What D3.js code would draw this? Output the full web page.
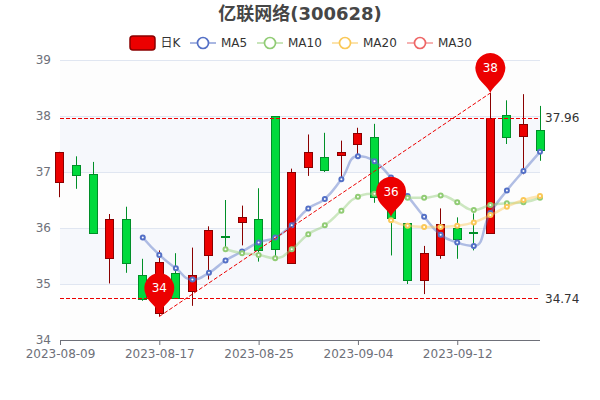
<!DOCTYPE html>
<html><head><meta charset="utf-8">
<script src="https://cdn.jsdelivr.net/npm/d3@7/dist/d3.min.js"></script>
<style>html,body{margin:0;padding:0;background:#fff}svg{display:block}text{font-family:"DejaVu Sans","Noto Sans CJK SC",sans-serif}</style>
</head><body><svg id="c" width="600" height="400"></svg>
<script>
const dates=["2023-08-09","2023-08-10","2023-08-11","2023-08-14","2023-08-15","2023-08-16","2023-08-17","2023-08-18","2023-08-21","2023-08-22","2023-08-23","2023-08-24","2023-08-25","2023-08-28","2023-08-29","2023-08-30","2023-08-31","2023-09-01","2023-09-04","2023-09-05","2023-09-06","2023-09-07","2023-09-08","2023-09-11","2023-09-12","2023-09-13","2023-09-14","2023-09-15","2023-09-18","2023-09-19"];
const tickDates=["2023-08-09","2023-08-17","2023-08-25","2023-09-04","2023-09-12"];
const opens =[36.80,37.12,36.96,35.46,36.16,35.16,34.48,35.19,34.88,35.50,35.85,36.10,36.16,37.99,35.37,37.08,37.26,37.29,37.48,37.62,36.55,36.08,35.06,35.50,36.00,35.92,35.91,38.00,37.63,37.75];
const closes=[37.34,36.94,35.90,36.15,35.38,34.74,35.39,34.74,35.16,35.95,35.83,36.19,35.60,35.62,37.00,37.35,37.02,37.34,37.68,36.55,36.18,35.06,35.54,36.06,35.81,35.90,37.96,37.60,37.85,37.39];
const lows  =[36.55,36.70,35.90,35.01,35.20,34.70,34.42,34.74,34.61,35.08,35.60,35.69,35.40,35.47,35.37,36.93,37.00,36.87,37.28,36.45,35.51,35.00,34.82,35.45,35.45,35.60,35.91,37.50,36.96,37.20];
const highs =[37.36,37.28,37.18,36.25,36.38,35.45,35.60,35.55,35.65,36.03,36.50,36.40,36.71,37.99,37.06,37.67,37.70,37.56,37.79,37.86,36.80,36.08,35.68,36.35,36.19,36.26,38.41,38.28,38.39,38.18];
const ma5 =[null,null,null,null,null,35.83,35.52,35.28,35.08,35.20,35.42,35.58,35.74,35.83,36.05,36.35,36.52,36.87,37.28,37.19,36.90,36.57,36.20,35.88,35.74,35.68,36.27,36.67,37.02,37.36];
const ma10=[null,null,null,null,null,null,null,null,null,null,35.62,35.55,35.52,35.46,35.62,35.89,36.05,36.31,36.56,36.61,36.60,36.54,36.54,36.58,36.46,36.32,36.41,36.44,36.46,36.54];
const ma20=[null,null,null,null,null,null,null,null,null,null,null,null,null,null,null,null,null,null,null,null,36.14,36.04,36.02,36.02,36.04,36.10,36.23,36.38,36.50,36.57];
const ma30=dates.map(()=>null);
const yTicks=[34,35,36,37,38,39];
const hLines=[37.96,34.74];
const pinDates=["2023-08-17","2023-09-06","2023-09-14"];
const pinValues=[34.48,36.20,38.41];
const pinLabels=["34","36","38"];
const diagonal=[["2023-08-17",34.42],["2023-09-14",38.41]];
const maNames=["MA5","MA10","MA20","MA30"];
const maColors=["#5470C6","#91CC75","#FAC858","#EE6666"];
const maSeries=[ma5,ma10,ma20,ma30];
const legendLeft=[190,257,332,407];

const svg=d3.select("#c");
const x=d3.scalePoint().domain(dates).range([60,540]);
const y=d3.scaleLinear().domain([34,39]).range([340,60]);
const sp=v=>Math.floor(v)+0.5;

// split areas
const bands=d3.pairs(yTicks);
svg.append("g").selectAll("rect").data(bands).join("rect")
  .attr("x",60).attr("width",480).attr("y",d=>y(d[1])).attr("height",d=>y(d[0])-y(d[1]))
  .attr("fill",(d,i)=>i%2?"rgba(210,219,238,0.2)":"rgba(250,250,250,0.3)");
// y grid + labels
const gy=svg.append("g").attr("transform","translate(60,0)")
  .call(d3.axisLeft(y).tickValues(yTicks).tickSize(-480).tickPadding(9).tickFormat(d3.format("d")));
gy.attr("font-family",null);
gy.select(".domain").remove();
gy.selectAll("line").attr("stroke","#E0E6F1").attr("shape-rendering","crispEdges");
gy.selectAll("text").attr("fill","#6E7079").attr("font-size",12).attr("font-family",null);
// x axis
const gx=svg.append("g").attr("transform","translate(0,340)")
  .call(d3.axisBottom(x).tickValues(tickDates).tickSize(5).tickPadding(4.5));
gx.attr("font-family",null);
gx.select(".domain").attr("stroke","#6E7079").attr("d","M60,0.5H540");
gx.selectAll("line").attr("stroke","#6E7079");
gx.selectAll("text").attr("fill","#6E7079").attr("font-size",12).attr("font-family",null);

// candles
const candles=svg.append("g").selectAll("g").data(dates.map((d,i)=>({d,o:opens[i],c:closes[i],l:lows[i],h:highs[i]}))).join("g");
const isUp=d=>d.c>=d.o;
candles.append("line").attr("x1",d=>sp(x(d.d))).attr("x2",d=>sp(x(d.d)))
  .attr("y1",d=>y(d.h)).attr("y2",d=>y(d.l))
  .attr("stroke",d=>isUp(d)?"#8A0000":"#008F28").attr("stroke-width",1);
candles.append("rect").attr("x",d=>sp(x(d.d)-4)).attr("width",8)
  .attr("y",d=>sp(y(Math.max(d.o,d.c)))).attr("height",d=>Math.max(1,Math.round(Math.abs(y(d.o)-y(d.c)))))
  .attr("fill",d=>isUp(d)?"#ec0000":"#00da3c")
  .attr("stroke",d=>isUp(d)?"#8A0000":"#008F28").attr("stroke-width",1);

// MA lines: smoothing with control points clamped between neighbouring points
function smoothPath(p){
  const s=0.5,path=d3.path();
  let cx0=p[0][0],cy0=p[0][1];
  path.moveTo(cx0,cy0);
  for(let i=1;i<p.length;i++){
    const [px,py]=p[i-1],[cx,cy]=p[i];
    let c1x=cx,c1y=cy,nx0=cx,ny0=cy;
    if(i<p.length-1){
      const [nx,ny]=p[i+1];
      const lp=Math.hypot(cx-px,cy-py),ln=Math.hypot(nx-cx,ny-cy),r=ln/(ln+lp);
      const vx=nx-px,vy=ny-py;
      nx0=cx+vx*s*r;ny0=cy+vy*s*r;
      nx0=Math.max(Math.min(nx0,Math.max(nx,cx)),Math.min(nx,cx));
      ny0=Math.max(Math.min(ny0,Math.max(ny,cy)),Math.min(ny,cy));
      c1x=cx-(nx0-cx)*lp/ln;c1y=cy-(ny0-cy)*lp/ln;
      c1x=Math.max(Math.min(c1x,Math.max(px,cx)),Math.min(px,cx));
      c1y=Math.max(Math.min(c1y,Math.max(py,cy)),Math.min(py,cy));
      nx0=cx+(cx-c1x)*ln/lp;ny0=cy+(cy-c1y)*ln/lp;
    }
    path.bezierCurveTo(cx0,cy0,c1x,c1y,cx,cy);
    cx0=nx0;cy0=ny0;
  }
  return path.toString();
}
maSeries.forEach((s,k)=>{
  const pts=dates.map((d,i)=>({d,v:s[i]})).filter(p=>p.v!==null);
  if(!pts.length)return;
  const g=svg.append("g");
  g.append("path").attr("d",smoothPath(pts.map(p=>[x(p.d),y(p.v)]))).attr("fill","none").attr("stroke",maColors[k]).attr("stroke-width",2.5).attr("stroke-opacity",0.45);
  g.selectAll("circle").data(pts).join("circle").attr("cx",d=>x(d.d)).attr("cy",d=>y(d.v)).attr("r",2)
    .attr("fill","#fff").attr("stroke",maColors[k]).attr("stroke-width",2);
});

// mark lines
const ml=svg.append("g");
ml.selectAll("line.h").data(hLines).join("line").attr("class","h")
  .attr("x1",60).attr("x2",540).attr("y1",d=>sp(y(d))).attr("y2",d=>sp(y(d)))
  .attr("stroke","#ec0000").attr("stroke-width",1).attr("stroke-dasharray","4,2");
ml.selectAll("text").data(hLines).join("text").attr("x",545).attr("y",d=>y(d)).attr("dy","0.35em")
  .attr("font-size",12).attr("fill","#333").text(d=>d.toFixed(2));
ml.append("line").attr("x1",x(diagonal[0][0])).attr("y1",y(diagonal[0][1]))
  .attr("x2",x(diagonal[1][0])).attr("y2",y(diagonal[1][1]))
  .attr("stroke","#ec0000").attr("stroke-width",1).attr("stroke-dasharray","4,2");

// pins
function pinPath(cx,tip){
  const r=15,cy=tip-25,p=d3.path(),a=0.45;
  const dx=r*Math.cos(a),dy=r*Math.sin(a);
  p.moveTo(cx,tip);
  p.bezierCurveTo(cx-2,tip-6,cx-dx+2,cy+dy+7,cx-dx,cy+dy);
  p.arc(cx,cy,r,Math.PI-a,a);
  p.bezierCurveTo(cx+dx-2,cy+dy+7,cx+2,tip-6,cx,tip);
  p.closePath();
  return p.toString();
}
pinDates.forEach((d,i)=>{
  const tip=y(pinValues[i]);
  svg.append("path").attr("d",pinPath(x(d),tip)).attr("fill","#ec0000");
  svg.append("text").attr("x",x(d)).attr("y",tip-25).attr("dy","0.35em").attr("text-anchor","middle")
    .attr("font-size",12).attr("fill","#fff").text(pinLabels[i]);
});

// title
svg.append("text").attr("x",300).attr("y",14).attr("dy","0.35em").attr("text-anchor","middle")
  .attr("font-size",18).attr("font-weight","bold").attr("fill","#464646").text("亿联网络(300628)");

// legend
const lg=svg.append("g");
lg.append("rect").attr("x",130).attr("y",36).attr("width",25).attr("height",14).attr("rx",3)
  .attr("fill","#ec0000").attr("stroke","#8A0000").attr("stroke-width",1.5);
lg.append("text").attr("x",160.5).attr("y",43).attr("dy","0.35em").attr("font-size",12).attr("fill","#333").text("日K");
maNames.forEach((n,k)=>{
  const l=legendLeft[k];
  lg.append("line").attr("x1",l).attr("x2",l+26).attr("y1",43).attr("y2",43).attr("stroke",maColors[k]).attr("stroke-width",2).attr("stroke-opacity",0.5);
  lg.append("circle").attr("cx",l+13).attr("cy",43).attr("r",5.5).attr("fill","#fff").attr("stroke",maColors[k]).attr("stroke-width",1.7);
  lg.append("text").attr("x",l+31).attr("y",43).attr("dy","0.35em").attr("font-size",12).attr("fill","#333").text(n);
});
</script></body></html>
